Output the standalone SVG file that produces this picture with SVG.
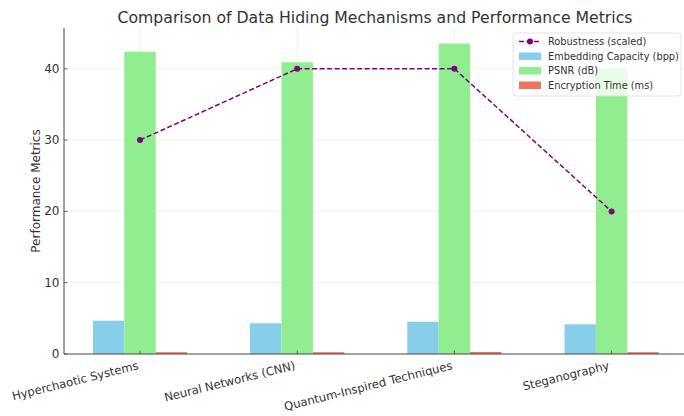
<svg xmlns="http://www.w3.org/2000/svg" width="684" height="416" viewBox="0 0 684 416">
  <style>
    text { font-family: "DejaVu Sans", "Liberation Sans", sans-serif; fill: #333; }
    .grid { stroke: #ebebeb; stroke-width: 0.8; }
    .spine { stroke: #444; stroke-width: 1; fill: none; }
    .tick { stroke: #444; stroke-width: 0.8; }
    .ytl { font-size: 12px; text-anchor: end; dominant-baseline: central; }
    .xtl { font-size: 11.6px; text-anchor: end; }
    .cap { fill: #87CEEB; }
    .psnr { fill: #90EE90; }
    .enc { fill: #F2735F; }
    .rob { stroke: #800080; stroke-width: 1.5; stroke-dasharray: 5 2.5; fill: none; }
    .mk { fill: #800080; }
    .leg { font-size: 9.8px; dominant-baseline: central; }
  </style>

  <rect width="684" height="416" fill="#ffffff"/>

  <!-- title -->
  <text x="375" y="23" font-size="15.7px" text-anchor="middle">Comparison of Data Hiding Mechanisms and Performance Metrics</text>

  <!-- grid -->
  <g id="grid">
    <line class="grid" x1="64" y1="282.7" x2="684" y2="282.7"/>
    <line class="grid" x1="64" y1="211.4" x2="684" y2="211.4"/>
    <line class="grid" x1="64" y1="140.1" x2="684" y2="140.1"/>
    <line class="grid" x1="64" y1="68.8" x2="684" y2="68.8"/>
    <line class="grid" x1="140" y1="28" x2="140" y2="354"/>
    <line class="grid" x1="297.2" y1="28" x2="297.2" y2="354"/>
    <line class="grid" x1="454.4" y1="28" x2="454.4" y2="354"/>
    <line class="grid" x1="611.6" y1="28" x2="611.6" y2="354"/>
  </g>

  <!-- bars, one group per mechanism -->
  <g id="hyperchaotic">
    <rect class="cap" x="92.9" y="320.7" width="31.4" height="33.3"/>
    <rect class="psnr" x="124.3" y="51.7" width="31.4" height="302.3"/>
    <rect class="enc" x="155.7" y="352.2" width="31.4" height="1.8"/>
  </g>
  <g id="neural">
    <rect class="cap" x="250.1" y="323.3" width="31.4" height="30.7"/>
    <rect class="psnr" x="281.5" y="62.3" width="31.4" height="291.7"/>
    <rect class="enc" x="312.9" y="352.2" width="31.4" height="1.8"/>
  </g>
  <g id="quantum">
    <rect class="cap" x="407.3" y="321.7" width="31.4" height="32.3"/>
    <rect class="psnr" x="438.7" y="43.5" width="31.4" height="310.5"/>
    <rect class="enc" x="470.1" y="352.0" width="31.4" height="2.0"/>
  </g>
  <g id="steganography">
    <rect class="cap" x="564.5" y="324.3" width="31.4" height="29.7"/>
    <rect class="psnr" x="595.9" y="68.8" width="31.4" height="285.2"/>
    <rect class="enc" x="627.3" y="352.2" width="31.4" height="1.8"/>
  </g>

  <!-- robustness series -->
  <g id="connectors">
    <polyline class="rob" points="140,140.1 297.2,68.8 454.4,68.8 611.6,211.4"/>
    <circle class="mk" cx="140" cy="140.1" r="3"/>
    <circle class="mk" cx="297.2" cy="68.8" r="3"/>
    <circle class="mk" cx="454.4" cy="68.8" r="3"/>
    <circle class="mk" cx="611.6" cy="211.4" r="3"/>
  </g>

  <!-- axes -->
  <g id="axes">
    <line class="spine" x1="64" y1="28" x2="64" y2="354"/>
    <line class="spine" x1="64" y1="354" x2="684" y2="354"/>
    <line class="tick" x1="64" y1="354" x2="67.5" y2="354"/>
    <line class="tick" x1="64" y1="282.7" x2="67.5" y2="282.7"/>
    <line class="tick" x1="64" y1="211.4" x2="67.5" y2="211.4"/>
    <line class="tick" x1="64" y1="140.1" x2="67.5" y2="140.1"/>
    <line class="tick" x1="64" y1="68.8" x2="67.5" y2="68.8"/>
    <line class="tick" x1="140" y1="350.5" x2="140" y2="354"/>
    <line class="tick" x1="297.2" y1="350.5" x2="297.2" y2="354"/>
    <line class="tick" x1="454.4" y1="350.5" x2="454.4" y2="354"/>
    <line class="tick" x1="611.6" y1="350.5" x2="611.6" y2="354"/>

    <text class="ytl" x="59.5" y="354">0</text>
    <text class="ytl" x="59.5" y="282.7">10</text>
    <text class="ytl" x="59.5" y="211.4">20</text>
    <text class="ytl" x="59.5" y="140.1">30</text>
    <text class="ytl" x="59.5" y="68.8">40</text>

    <text class="xtl" transform="translate(139,369) rotate(-14)">Hyperchaotic Systems</text>
    <text class="xtl" transform="translate(296,369) rotate(-14)">Neural Networks (CNN)</text>
    <text class="xtl" transform="translate(453,369) rotate(-14)">Quantum-Inspired Techniques</text>
    <text class="xtl" transform="translate(610,369) rotate(-14)">Steganography</text>

    <text font-size="12px" text-anchor="middle" transform="translate(40,191) rotate(-90)">Performance Metrics</text>
  </g>

  <!-- legend -->
  <g id="legend">
    <rect x="513" y="33" width="168" height="63" rx="3" fill="#ffffff" fill-opacity="0.8" stroke="#dddddd" stroke-width="0.8"/>
    <line class="rob" x1="519" y1="41.5" x2="541" y2="41.5"/>
    <circle class="mk" cx="530" cy="41.5" r="3"/>
    <text class="leg" x="548" y="41.5">Robustness (scaled)</text>
    <rect class="cap" x="519" y="52.5" width="22" height="7.5"/>
    <text class="leg" x="548" y="56">Embedding Capacity (bpp)</text>
    <rect class="psnr" x="519" y="67" width="22" height="7.5"/>
    <text class="leg" x="548" y="70.5">PSNR (dB)</text>
    <rect class="enc" x="519" y="81.5" width="22" height="7.5"/>
    <text class="leg" x="548" y="85">Encryption Time (ms)</text>
  </g>
</svg>
